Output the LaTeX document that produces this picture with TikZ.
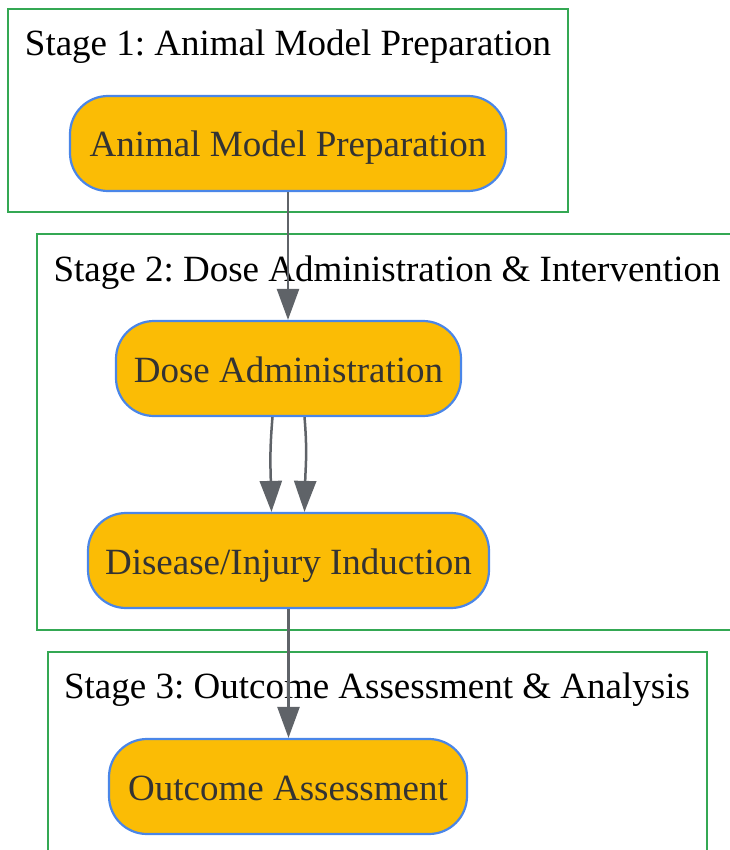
\documentclass[tikz,border=0pt]{standalone}
\usepackage{fontspec}
\setmainfont{Liberation Serif}
\frenchspacing
\usetikzlibrary{arrows.meta}
\definecolor{nodefill}{HTML}{FBBC05}
\definecolor{nodeline}{HTML}{4A86E8}
\definecolor{clusterline}{HTML}{34A853}
\definecolor{edgecol}{HTML}{5F6368}
\definecolor{nodetext}{HTML}{333333}
\begin{document}
\begin{tikzpicture}[x=1pt,y=-1pt,
  stepnode/.style={draw=nodeline, line width=2.2pt, fill=nodefill, rounded corners=38pt,
    minimum height=95pt, inner sep=0pt, text=nodetext, text height=27pt, text depth=0pt,
    font=\fontsize{37}{44}\selectfont},
  cluster/.style={draw=clusterline, line width=2.3pt},
  clustertitle/.style={inner sep=0pt, text=black, font=\fontsize{37}{44}\selectfont},
  edge/.style={draw=edgecol, line width=2.5pt, -{Triangle[length=31pt,width=22pt]}}]
\useasboundingbox (0,0) rectangle (729,850);
% clusters
\draw[cluster] (8,9) rectangle (568,212);
\draw[cluster] (37,234) rectangle (740,630);
\draw[cluster] (48,652) rectangle (707,860);
\node[clustertitle] (t1) at (288,47) {Stage 1: Animal Model Preparation};
\node[clustertitle] (t2) at (387,273) {Stage 2: Dose Administration \& Intervention};
\node[clustertitle] (t3) at (377,690) {Stage 3: Outcome Assessment \& Analysis};
% nodes
\node[stepnode, minimum width=436pt] (n1) at (288,143.5) {Animal Model Preparation};
\node[stepnode, minimum width=345pt] (n2) at (288.5,368.5) {Dose Administration};
\node[stepnode, minimum width=401pt] (n3) at (288.5,560.5) {Disease/Injury Induction};
\node[stepnode, minimum width=358pt] (n4) at (288,786.5) {Outcome Assessment};
% edges
\draw[edge] (n1.south) -- (n1.south |- n2.north);
\draw[edge] ([xshift=-16pt]n2.south) .. controls +(-3,35) and +(-1,-45) .. ([xshift=-17pt]n3.north);
\draw[edge] ([xshift=16pt]n2.south) .. controls +(3,35) and +(1,-45) .. ([xshift=16pt]n3.north);
\draw[edge] (n3.south) -- (n3.south |- n4.north);
\end{tikzpicture}
\end{document}
